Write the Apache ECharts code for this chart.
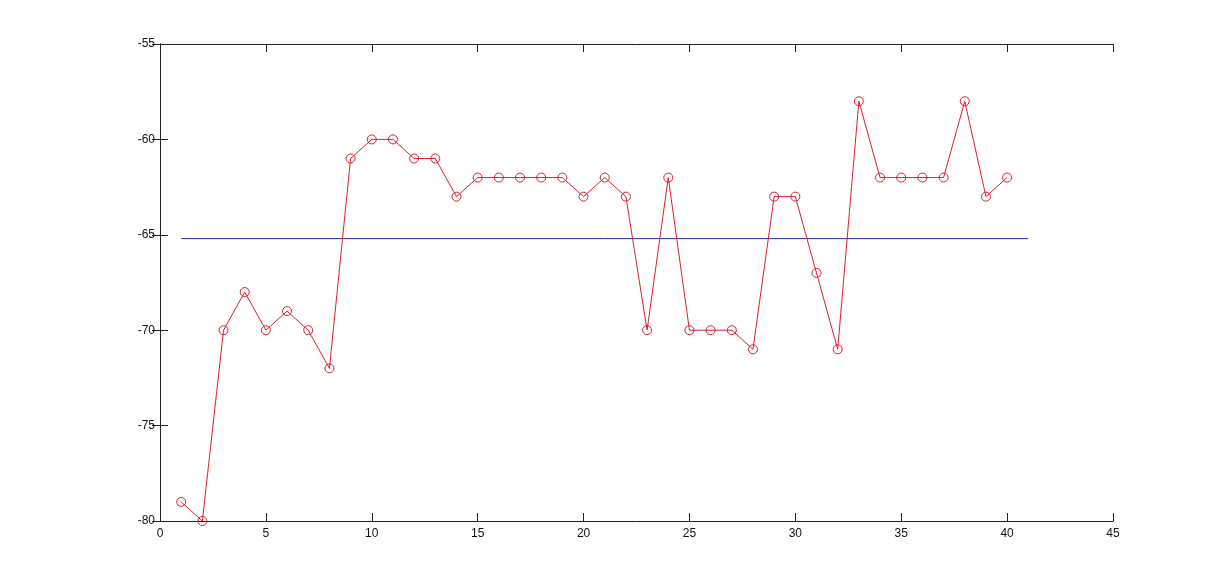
<!DOCTYPE html>
<html>
<head>
<meta charset="utf-8">
<script src="https://cdn.jsdelivr.net/npm/echarts@6/dist/echarts.min.js"></script>
<style>html,body{margin:0;padding:0;background:#fff;}#c{width:1230px;height:586px;}</style>
</head>
<body>
<div id="c"></div>
<script>
const xValues = [1,2,3,4,5,6,7,8,9,10,11,12,13,14,15,16,17,18,19,20,21,22,23,24,25,26,27,28,29,30,31,32,33,34,35,36,37,38,39,40];
const yValues = [-79,-80,-70,-68,-70,-69,-70,-72,-61,-60,-60,-61,-61,-63,-62,-62,-62,-62,-62,-63,-62,-63,-70,-62,-70,-70,-70,-71,-63,-63,-67,-71,-58,-62,-62,-62,-62,-58,-63,-62];
const meanRange = [1, 41];
const meanValue = yValues.reduce((a,b)=>a+b,0)/yValues.length;

const chart = echarts.init(document.getElementById('c'), null, {renderer:'canvas'});
const axisLine = {show:true, lineStyle:{color:'#222', width:1}};
const tickStyle = {show:true, inside:true, length:8, lineStyle:{color:'#222', width:1}};
const lbl = {color:'#111', fontFamily:'Liberation Sans, Arial, sans-serif', fontSize:12};
chart.setOption({
  animation:false,
  backgroundColor:'#fff',
  grid:{left:160, right:117, top:44, bottom:65},
  xAxis:[
    {type:'value', min:0, max:45, interval:5, position:'bottom', axisLine, axisTick:tickStyle, axisLabel:Object.assign({margin:7}, lbl), splitLine:{show:false}},
    {type:'value', min:0, max:45, interval:5, position:'top', axisLine, axisTick:tickStyle, axisLabel:{show:false}, splitLine:{show:false}}
  ],
  yAxis:[
    {type:'value', min:-80, max:-55, interval:5, position:'left', axisLine, axisTick:tickStyle, axisLabel:Object.assign({margin:5}, lbl), splitLine:{show:false}},
    {type:'value', min:-80, max:-55, interval:5, position:'right', axisLine, axisTick:tickStyle, axisLabel:{show:false}, splitLine:{show:false}}
  ],
  series:[
    {type:'line', data:xValues.map((x,i)=>[x,yValues[i]]), symbol:'circle', symbolSize:9,
     lineStyle:{color:'#d8202c', width:1}, itemStyle:{color:'rgba(0,0,0,0)', borderColor:'#d8202c', borderWidth:1}, z:3},
    {type:'line', data:meanRange.map(x=>[x,meanValue]), symbol:'none',
     lineStyle:{color:'#2b2ba8', width:1}, z:2}
  ]
});
</script>
</body>
</html>
